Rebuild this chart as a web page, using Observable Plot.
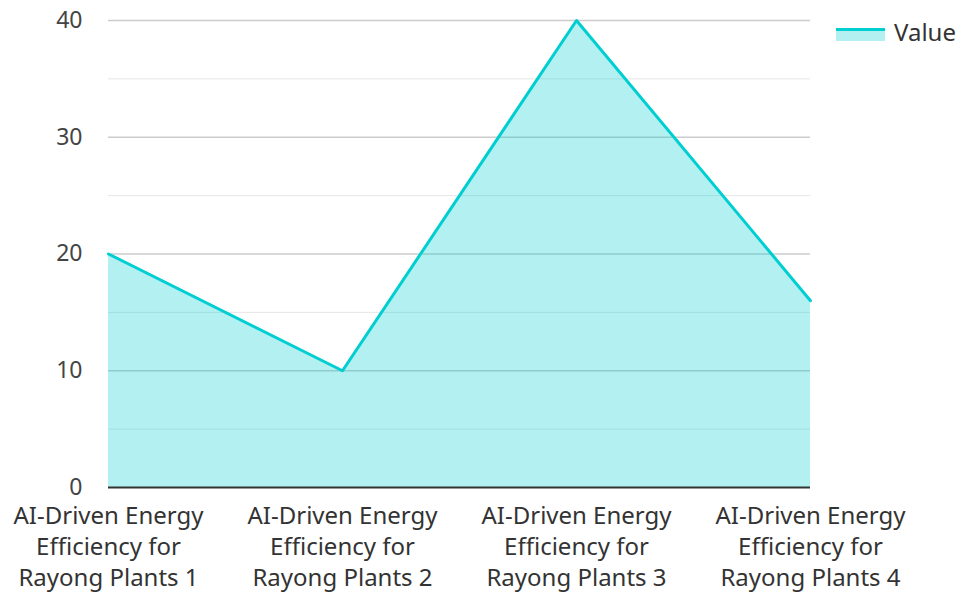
<!DOCTYPE html>
<html>
<head>
<meta charset="utf-8">
<script src="https://cdn.jsdelivr.net/npm/d3@7"></script>
<script src="https://cdn.jsdelivr.net/npm/@observablehq/plot@0.6"></script>
<style>
  html, body { margin: 0; padding: 0; background: #fff; }
  #wrap { position: relative; width: 960px; height: 593px; font-family: "Noto Sans", sans-serif; }
  #legend { position: absolute; left: 836px; top: 16px; display: flex; align-items: center; font-size: 24px; color: #333; line-height: 32px; }
  #legend .sw { width: 49px; height: 13px; background: #b3f0f1; border-top: 3px solid #00CED1; margin-right: 9px; margin-top: 4px; box-sizing: border-box; }
</style>
</head>
<body>
<div id="wrap"><div id="legend"><div class="sw"></div><span>Value</span></div></div>
<script>
const categories = [
  "AI-Driven Energy Efficiency for Rayong Plants 1",
  "AI-Driven Energy Efficiency for Rayong Plants 2",
  "AI-Driven Energy Efficiency for Rayong Plants 3",
  "AI-Driven Energy Efficiency for Rayong Plants 4"
];
const values = [20, 10, 40, 16];
const yTicks = [0, 10, 20, 30, 40];
const yMinor = [5, 15, 25, 35];

const data = categories.map((c, i) => ({category: c, value: values[i]}));
const wrapLabel = d => d.replace(" Efficiency for ", "\nEfficiency for\n");

const chart = Plot.plot({
  width: 960,
  height: 593,
  marginLeft: 108,
  marginRight: 150,
  marginTop: 20,
  marginBottom: 106,
  style: {fontFamily: "Noto Sans, sans-serif", fontSize: "23px", color: "#444", background: "transparent"},
  x: {type: "point", domain: categories, padding: 0},
  y: {domain: [0, 40]},
  marks: [
    Plot.ruleY(yMinor, {stroke: "#e6e6e6", strokeWidth: 1}),
    Plot.ruleY(yTicks.filter(d => d > 0), {stroke: "#cccccc", strokeWidth: 1.5}),
    Plot.areaY(data, {x: "category", y: "value", fill: "#00CED1", fillOpacity: 0.3}),
    Plot.lineY(data, {x: "category", y: "value", stroke: "#00CED1", strokeWidth: 3}),
    Plot.ruleY([0], {stroke: "#333", strokeWidth: 2}),
    Plot.axisY({ticks: yTicks, tickSize: 0, tickPadding: 26, label: null, fontSize: 23, fill: "#444"}),
    Plot.axisX({tickSize: 0, tickPadding: 14, label: null, tickFormat: wrapLabel, lineHeight: 1.3, fontSize: 24, fill: "#333"})
  ]
});
document.getElementById("wrap").appendChild(chart);
chart.style.position = "absolute";
chart.style.left = "0";
chart.style.top = "0";
</script>
</body>
</html>
